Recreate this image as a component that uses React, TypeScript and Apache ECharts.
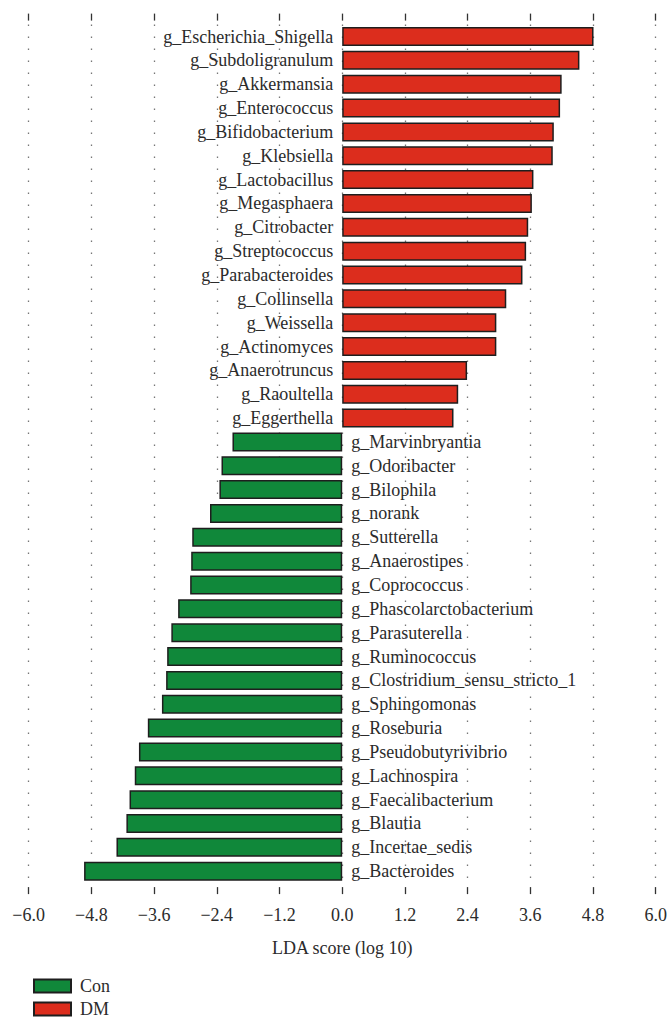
import React, { useEffect, useRef } from "react";
import * as echarts from "echarts";

const dmCategories = [
  "g_Escherichia_Shigella",
  "g_Subdoligranulum",
  "g_Akkermansia",
  "g_Enterococcus",
  "g_Bifidobacterium",
  "g_Klebsiella",
  "g_Lactobacillus",
  "g_Megasphaera",
  "g_Citrobacter",
  "g_Streptococcus",
  "g_Parabacteroides",
  "g_Collinsella",
  "g_Weissella",
  "g_Actinomyces",
  "g_Anaerotruncus",
  "g_Raoultella",
  "g_Eggerthella",
];
const dmValues = [4.81, 4.54, 4.2, 4.17, 4.05, 4.03, 3.66, 3.63, 3.56, 3.52, 3.45, 3.14, 2.95, 2.95, 2.39, 2.22, 2.13];

const conCategories = [
  "g_Marvinbryantia",
  "g_Odoribacter",
  "g_Bilophila",
  "g_norank",
  "g_Sutterella",
  "g_Anaerostipes",
  "g_Coprococcus",
  "g_Phascolarctobacterium",
  "g_Parasuterella",
  "g_Ruminococcus",
  "g_Clostridium_sensu_stricto_1",
  "g_Sphingomonas",
  "g_Roseburia",
  "g_Pseudobutyrivibrio",
  "g_Lachnospira",
  "g_Faecalibacterium",
  "g_Blautia",
  "g_Incertae_sedis",
  "g_Bacteroides",
];
const conValues = [-2.1, -2.31, -2.35, -2.53, -2.87, -2.89, -2.91, -3.14, -3.27, -3.35, -3.37, -3.45, -3.72, -3.89, -3.97, -4.07, -4.13, -4.32, -4.94];

const xMin = -6;
const xMax = 6;
const xInterval = 1.2;
const axisName = "LDA score (log 10)";
const groupNames = ["Con", "DM"];

const FONT = "'Liberation Serif', 'Times New Roman', serif";
const RED = "#DC2D1D";
const GREEN = "#10883A";
const BORDER = "#1e1e1e";
const TEXT = "#2b2b2b";

export default function App() {
  const ref = useRef<HTMLDivElement>(null);

  useEffect(() => {
    if (!ref.current) return;
    const chart = echarts.init(ref.current, null, { renderer: "svg" });
    const categories = [...dmCategories, ...conCategories];
    const dmData = [...dmValues, ...conCategories.map(() => null)];
    const conData = [...dmCategories.map(() => null), ...conValues];
    const fmt = (v: number) => {
      const s = (Math.round(v * 10) / 10).toFixed(1);
      return s.replace("-", "\u2212");
    };
    const option: any = {
      animation: false,
      textStyle: { fontFamily: FONT },
      grid: { left: 28.7, right: 15.3, top: 24.6, bottom: 135.9, containLabel: false },
      legend: {
        data: groupNames,
        orient: "vertical",
        left: 28,
        top: 972,
        height: 46,
        itemWidth: 37,
        itemHeight: 13,
        itemGap: 5,
        icon: "rect",
        textStyle: { fontFamily: FONT, fontSize: 18, color: TEXT, padding: [0, 0, 0, 4] },
        selectedMode: false,
      },
      xAxis: [
        {
          type: "value",
          position: "bottom",
          min: xMin,
          max: xMax,
          interval: xInterval,
          offset: 4,
          axisLine: { show: false },
          axisTick: { show: true, length: 7, lineStyle: { color: "#333", width: 1.3 } },
          axisLabel: { formatter: fmt, fontFamily: FONT, fontSize: 18, color: TEXT, margin: 19 },
          splitLine: { show: true, lineStyle: { color: "#777", width: 1.3, type: [1.3, 10.7] } },
          name: axisName,
          nameLocation: "middle",
          nameGap: 52,
          nameTextStyle: { fontFamily: FONT, fontSize: 18, color: TEXT },
        },
        {
          type: "value",
          position: "top",
          min: xMin,
          max: xMax,
          interval: xInterval,
          offset: 4,
          axisLine: { show: false },
          axisTick: { show: true, length: 7, lineStyle: { color: "#333", width: 1.3 } },
          axisLabel: { show: false },
          splitLine: { show: false },
        },
      ],
      yAxis: {
        type: "category",
        data: categories,
        inverse: true,
        show: false,
      },
      series: [
        {
          name: "Con",
          type: "bar",
          stack: "lda",
          data: conData,
          barWidth: 19,
          itemStyle: { color: GREEN, borderColor: BORDER, borderWidth: 1.5 },
          label: {
            show: true,
            position: "right",
            distance: 9,
            formatter: "{b}",
            fontFamily: FONT,
            fontSize: 18,
            color: TEXT,
          },
        },
        {
          name: "DM",
          type: "bar",
          stack: "lda",
          data: dmData,
          barWidth: 19,
          itemStyle: { color: RED, borderColor: BORDER, borderWidth: 1.5 },
          label: {
            show: true,
            position: "left",
            distance: 9,
            formatter: "{b}",
            fontFamily: FONT,
            fontSize: 18,
            color: TEXT,
          },
        },
      ],
    };
    chart.setOption(option);
    return () => chart.dispose();
  }, []);

  return <div ref={ref} style={{ width: 671, height: 1019, position: "absolute", left: 0, top: 0 }} />;
}
